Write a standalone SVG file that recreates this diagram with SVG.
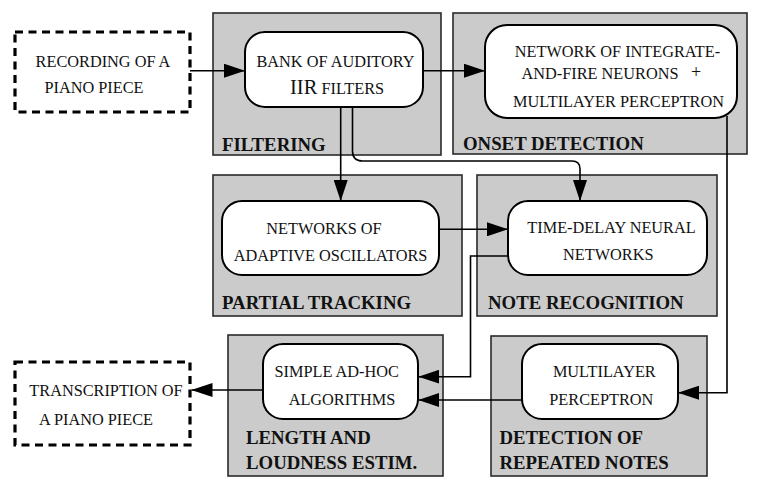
<svg xmlns="http://www.w3.org/2000/svg" width="760" height="492" viewBox="0 0 760 492">
<style>
.panel{fill:#cbcbcb;stroke:#2a2a2a;stroke-width:1.6}
.node{fill:#ffffff;stroke:#000;stroke-width:2}
.io{fill:#ffffff;stroke:#000;stroke-width:3.2;stroke-dasharray:8 5.5}
.t{font-family:"Liberation Serif","Times New Roman",serif;font-size:16.3px;fill:#111;text-anchor:middle}
.lbl{font-family:"Liberation Serif","Times New Roman",serif;font-size:18.8px;font-weight:bold;fill:#111}
.c{fill:none;stroke:#000;stroke-width:1.6}
</style>
<defs>
<marker id="ah" markerUnits="userSpaceOnUse" markerWidth="21" markerHeight="14" refX="21" refY="7" orient="auto">
<path d="M0,0 L21,7 L0,14 Z" fill="#000"/>
</marker>
</defs>
<rect width="760" height="492" fill="#ffffff"/>

<g id="recording">
<rect class="io" x="15" y="32" width="175" height="80"/>
<text class="t" x="103" y="66.7">RECORDING OF A</text>
<text class="t" x="94" y="93.3">PIANO PIECE</text>
</g>

<g id="filtering">
<rect class="panel" x="213" y="13" width="228" height="142"/>
<text class="lbl" x="222" y="150.5">FILTERING</text>
</g>
<g id="bank">
<rect class="node" x="245" y="32" width="178" height="75" rx="20"/>
<text class="t" x="335.5" y="66.7">BANK OF AUDITORY</text>
<text class="t" x="290" y="94.3" style="text-anchor:start"><tspan style="font-size:20.5px">IIR</tspan> FILTERS</text>
</g>

<g id="onset">
<rect class="panel" x="453" y="13" width="294" height="141"/>
<text class="lbl" x="463" y="150">ONSET DETECTION</text>
</g>
<g id="integrate-fire">
<rect class="node" x="485" y="25" width="252" height="93" rx="22"/>
<text class="t" x="617.5" y="56.5">NETWORK OF INTEGRATE-</text>
<text class="t" x="600" y="78.8">AND-FIRE NEURONS</text>
<text class="t" x="696" y="77.5" style="font-size:18px">+</text>
<text class="t" x="618.5" y="106.6">MULTILAYER PERCEPTRON</text>
</g>

<g id="partial">
<rect class="panel" x="213" y="175" width="249" height="141"/>
<text class="lbl" x="222" y="309.3">PARTIAL TRACKING</text>
</g>
<g id="oscillators">
<rect class="node" x="222" y="201" width="217" height="74" rx="20"/>
<text class="t" x="324" y="234">NETWORKS OF</text>
<text class="t" x="330.5" y="260.5">ADAPTIVE OSCILLATORS</text>
</g>

<g id="recognition">
<rect class="panel" x="477" y="175" width="240" height="141"/>
<text class="lbl" x="488" y="309.3">NOTE RECOGNITION</text>
</g>
<g id="tdnn">
<rect class="node" x="508" y="201" width="199" height="74" rx="20"/>
<text class="t" x="611.5" y="233.3">TIME-DELAY NEURAL</text>
<text class="t" x="608.3" y="260">NETWORKS</text>
</g>

<g id="length">
<rect class="panel" x="228" y="335" width="215" height="141"/>
<text class="lbl" x="246" y="444">LENGTH AND</text>
<text class="lbl" x="246" y="469">LOUDNESS ESTIM.</text>
</g>
<g id="adhoc">
<rect class="node" x="263" y="344" width="155" height="75" rx="20"/>
<text class="t" x="336.7" y="377.3">SIMPLE AD-HOC</text>
<text class="t" x="342" y="405">ALGORITHMS</text>
</g>

<g id="repeated">
<rect class="panel" x="491" y="336" width="216" height="140"/>
<text class="lbl" x="499.5" y="444">DETECTION OF</text>
<text class="lbl" x="499.5" y="469">REPEATED NOTES</text>
</g>
<g id="mlp">
<rect class="node" x="522" y="344" width="156" height="75" rx="20"/>
<text class="t" x="604.3" y="376.7">MULTILAYER</text>
<text class="t" x="601.3" y="405">PERCEPTRON</text>
</g>

<g id="transcription">
<rect class="io" x="15" y="362" width="175" height="83"/>
<text class="t" x="106" y="396">TRANSCRIPTION OF</text>
<text class="t" x="96" y="425">A PIANO PIECE</text>
</g>

<g id="connectors">
<path class="c" d="M190,70.7 H245" marker-end="url(#ah)"/>
<path class="c" d="M423,70.7 H485" marker-end="url(#ah)"/>
<path class="c" d="M340.7,107 V201" marker-end="url(#ah)"/>
<path class="c" d="M352.5,107 V151 Q352.5,161 362.5,161 H572 Q580,161 580,169 V201" marker-end="url(#ah)"/>
<path class="c" d="M439,229.3 H508" marker-end="url(#ah)"/>
<path class="c" d="M727,116 V392.7 H678" marker-end="url(#ah)"/>
<path class="c" d="M508,256 H470.5 V376.7 H418.3" marker-end="url(#ah)"/>
<path class="c" d="M522,400 H418.3" marker-end="url(#ah)"/>
<path class="c" d="M263,390 H191.5" marker-end="url(#ah)"/>
</g>
</svg>
